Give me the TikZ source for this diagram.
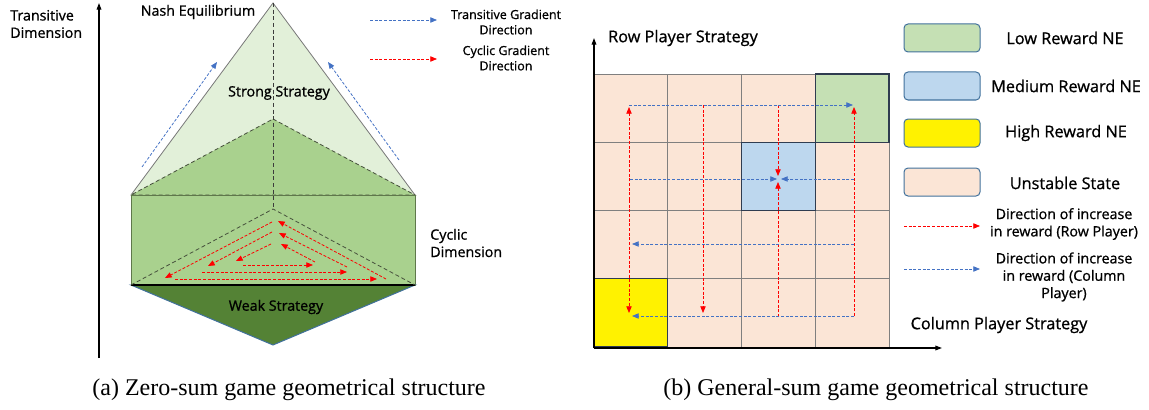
\documentclass[tikz,border=0pt]{standalone}
\usepackage{fontspec}
\setmainfont{Liberation Serif}
\newfontfamily\labelfont{Open Sans}[FakeBold=0.9]
\usetikzlibrary{arrows.meta}
\definecolor{lightgrn}{RGB}{226,240,217}
\definecolor{midgrn}{RGB}{169,209,142}
\definecolor{darkgrn}{RGB}{84,130,53}
\definecolor{peach}{RGB}{251,229,214}
\definecolor{lowne}{RGB}{197,224,180}
\definecolor{medne}{RGB}{189,215,238}
\definecolor{tblue}{RGB}{68,114,196}
\definecolor{legline}{RGB}{65,113,156}

\begin{document}
\begin{tikzpicture}[x=0.75pt,y=0.75pt,yscale=-1,xscale=1,
  lbl/.style={inner sep=0.75pt,align=center,font=\labelfont\fontsize{10.7}{13}\selectfont},
  smalllbl/.style={inner sep=0.75pt,align=center,font=\labelfont\fontsize{9.4}{11.5}\selectfont},
  biglbl/.style={inner sep=0.75pt,align=center,font=\labelfont\fontsize{12.2}{14}\selectfont},
  caption/.style={inner sep=0.75pt,font=\fontsize{18}{21}\selectfont},
  tgrad/.style={draw=tblue,dash pattern=on 2.2pt off 1.3pt,line width=0.6pt,-{Triangle[length=5pt,width=4pt]}},
  cgrad/.style={draw=red,dash pattern=on 2.2pt off 1.3pt,line width=0.6pt,-{Triangle[length=5pt,width=4pt]}},
  axis/.style={line width=0.9pt,-{Triangle[length=5pt,width=3.5pt]}},
  cell/.style={draw={rgb, 255:red, 127; green, 127; blue, 127},line width=0.6pt,fill=peach},
  necell/.style={draw={rgb, 255:red, 47; green, 60; blue, 80},line width=1pt},
  legbox/.style={draw=legline,rounded corners=3pt,line width=0.75pt,minimum width=57pt,minimum height=21pt,inner sep=0pt}
]
\useasboundingbox (0,0) rectangle (1149,410);

%Shape: Triangle [id:outer pyramid]
\draw [color={rgb, 255:red, 120; green, 120; blue, 120 }, fill=lightgrn, line width=0.6pt] (273,3) -- (415,195) -- (131,195) -- cycle ;
%Shape: Triangle [id:inner pyramid]
\draw [color={rgb, 255:red, 70; green, 80; blue, 60 }, fill=midgrn, densely dashed, line width=0.6pt] (273,119) -- (415,195) -- (131,195) -- cycle ;
%Shape: Rectangle [id:prism box]
\draw [color={rgb, 255:red, 95; green, 120; blue, 75 }, fill=midgrn, line width=0.75pt] (131,195) rectangle (415,285) ;
%Shape: Triangle [id:weak base]
\draw [color=legline, fill=darkgrn, line width=0.75pt] (131,285) -- (415,285) -- (273,345) -- cycle ;
%Straight Lines [id:base edge]
\draw [line width=0.9pt] (131,285) -- (415,285) ;
%Straight Lines [id:cyclic plane]
\draw [color={rgb, 255:red, 70; green, 80; blue, 60 }, densely dashed, line width=0.6pt] (131,285) -- (273,209) -- (415,285) ;
%Straight Lines [id:centre line]
\draw [color={rgb, 255:red, 60; green, 60; blue, 60 }, densely dashed, line width=0.6pt] (273,3) -- (273,209) ;

%Straight Lines [id:transitive axis]
\draw [axis] (99,358) -- (99,3) ;
%Straight Lines [id:transitive gradients]
\draw [tgrad] (142,167) -- (217,62) ;
\draw [tgrad] (399,160) -- (328,62) ;
%Straight Lines [id:cyclic gradients]
\draw [cgrad] (175,279) -- (377,279) ;
\draw [cgrad] (386,279) -- (278,221) ;
\draw [cgrad] (272,222) -- (165,278) ;
\draw [cgrad] (202,272) -- (347,272) ;
\draw [cgrad] (347,267) -- (279,233) ;
\draw [cgrad] (272,232) -- (208,266) ;
\draw [cgrad] (243,265) -- (313,265) ;
\draw [cgrad] (315,262) -- (281,244) ;
\draw [cgrad] (271,244) -- (236,261) ;
%Straight Lines [id:legend left]
\draw [tgrad] (370,20) -- (437,20) ;
\draw [cgrad] (370,59) -- (437,59) ;

% Text Node
\node [lbl, anchor=west, align=left] (transdim) at (9,24) {Transitive\\Dimension};
% Text Node
\node [lbl] (nash) at (198,12) {Nash Equilibrium};
% Text Node
\node [lbl] (strong) at (279,93) {Strong Strategy};
% Text Node
\node [lbl] (weak) at (276,307) {Weak Strategy};
% Text Node
\node [lbl, anchor=west, align=left] (cycdim) at (429,243) {Cyclic\\Dimension};
% Text Node
\node [smalllbl] (tgradtxt) at (506,22) {Transitive Gradient\\Direction};
% Text Node
\node [smalllbl] (cgradtxt) at (506,58) {Cyclic Gradient\\Direction};

%Shape: Grid [id:payoff grid]
\foreach \i in {0,...,3}
  \foreach \j in {0,...,3}
    \draw [cell] (594+73.75*\i,74+68.25*\j) rectangle ++(73.75,68.25) ;
\draw [necell, fill=lowne] (815.25,74) rectangle (889,142.25) ;
\draw [necell, fill=medne] (741.5,142.25) rectangle (815.25,210.5) ;
\draw [necell, fill=yellow] (594,278.75) rectangle (667.75,347) ;

%Straight Lines [id:row player gradients]
\draw [cgrad] (629,200) -- (629,107) ;
\draw [cgrad] (629,200) -- (629,313) ;
\draw [cgrad] (703,105) -- (703,313) ;
\draw [cgrad] (778,105) -- (778,176) ;
\draw [cgrad] (778,317) -- (778,182) ;
\draw [cgrad] (854,316) -- (854,107) ;
%Straight Lines [id:column player gradients]
\draw [tgrad] (629,105) -- (853,105) ;
\draw [tgrad] (630,179) -- (777,179) ;
\draw [tgrad] (854,179) -- (781,179) ;
\draw [tgrad] (854,244) -- (632,244) ;
\draw [tgrad] (854,316) -- (632,316) ;

%Straight Lines [id:strategy axes]
\draw [axis] (594,348) -- (594,38) ;
\draw [axis] (594,348) -- (942,348) ;

%Shape: Legend boxes
\node [legbox, fill=lowne] (lowbox) at (942,38) {};
\node [legbox, fill=medne] (medbox) at (942,86) {};
\node [legbox, fill=yellow] (highbox) at (942,133) {};
\node [legbox, fill=peach] (unstbox) at (942,182) {};
%Straight Lines [id:legend right]
\draw [cgrad] (904,226) -- (980,226) ;
\draw [tgrad] (904,269) -- (980,269) ;

% Text Node
\node [biglbl] (rowstrat) at (683,38) {Row Player Strategy};
% Text Node
\node [biglbl] (colstrat) at (999,325) {Column Player Strategy};
% Text Node
\node [biglbl] (lowtxt) at (1065,38) {Low Reward NE};
% Text Node
\node [biglbl] (medtxt) at (1066,86) {Medium Reward NE};
% Text Node
\node [biglbl] (hightxt) at (1066,133) {High Reward NE};
% Text Node
\node [biglbl] (unsttxt) at (1065,183) {Unstable State};
% Text Node
\node [lbl] (rowdir) at (1064,224) {Direction of increase\\in reward (Row Player)};
% Text Node
\node [lbl] (coldir) at (1064,277) {Direction of increase\\in reward (Column\\Player)};

% Text Node
\node [caption] (capa) at (289,390) {(a)~Zero-sum game geometrical structure};
% Text Node
\node [caption] (capb) at (876,390) {(b)~General-sum game geometrical structure};

\end{tikzpicture}
\end{document}
